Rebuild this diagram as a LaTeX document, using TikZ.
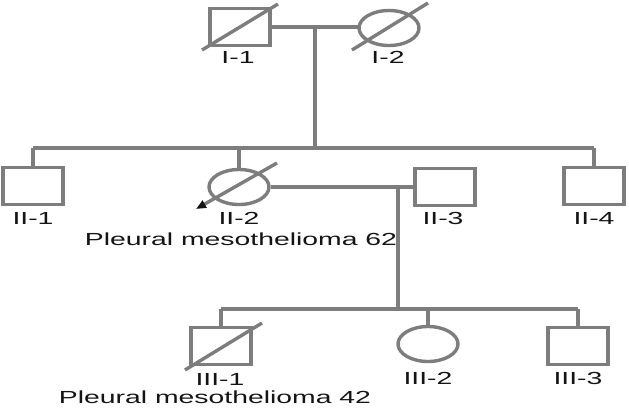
\documentclass[tikz,border=0pt]{standalone}
\usepackage{graphicx}
\usepackage{fontspec}
\setmainfont{Liberation Sans}
\usetikzlibrary{shapes.geometric,arrows.meta}
\newcommand\hstretch[1]{\scalebox{1.62}[1]{#1}}
\definecolor{pedgray}{RGB}{125,125,125}
\definecolor{txt}{RGB}{20,20,20}
\begin{document}
\begin{tikzpicture}[x=1pt,y=-1pt,
  pedline/.style={draw=pedgray,line width=3.4pt},
  malebox/.style={pedline,rectangle,minimum width=60pt,minimum height=37pt,inner sep=0pt,fill=white},
  femcirc/.style={pedline,ellipse,minimum width=60pt,minimum height=35pt,inner sep=0pt,fill=white},
  lbl/.style={anchor=base,inner sep=0pt,text=txt,font=\fontsize{17.5}{20}\selectfont},
  slash/.style={draw=pedgray,line width=3.4pt}]
\useasboundingbox (0,0) rectangle (629,408);
% coordinates of lines
\coordinate (m1) at (315,27);
\coordinate (s1) at (315,148);
\coordinate (sbL) at (33,148);
\coordinate (sbR) at (594,148);
\coordinate (m2) at (398,187);
\coordinate (s2) at (398,309);
\coordinate (sbIIIL) at (221,309);
\coordinate (sbIIIR) at (578,309);
% generation I
\draw[pedline] (270,27) -- (359,27);
\draw[pedline] (m1) -- (s1);
\node[malebox] (I1) at (240,27) {};
\node[femcirc] (I2) at (389,28) {};
\coordinate (dI1a) at (202,50); \coordinate (dI1b) at (278,4);
\draw[slash] (dI1a) -- (dI1b);
\coordinate (dI2a) at (352,50); \coordinate (dI2b) at (428,3);
\draw[slash] (dI2a) -- (dI2b);
\node[lbl] (tI1) at (238,63) {\hstretch{I-1}};
\node[lbl] (tI2) at (388,63) {\hstretch{I-2}};
% generation II
\draw[pedline] (sbL) -- (sbR);
\draw[pedline] (m2) -- (s2);
\node[malebox] (II1) at (33,186) {};
\node[femcirc] (II2) at (239,187) {};
\node[malebox] (II3) at (445,187) {};
\node[malebox] (II4) at (594,186) {};
\draw[pedline] (II1.north) -- (sbL);
\draw[pedline] (II4.north) -- (sbR);
\draw[pedline] (II2.north) -- (II2.north |- s1);
\draw[pedline] (II2.east) -- (II3.west);
\coordinate (dII2a) at (277,163); \coordinate (dII2b) at (196,209);
\draw[slash,-{Triangle[length=10pt,width=8pt,color=txt]}] (dII2a) -- (dII2b);
\node[lbl] (tII1) at (33,224) {\hstretch{II-1}};
\node[lbl] (tII2) at (239,224) {\hstretch{II-2}};
\node[lbl] (tII3) at (443,224) {\hstretch{II-3}};
\node[lbl] (tII4) at (594,224) {\hstretch{II-4}};
\node[lbl] (dxII2) at (241,245) {\hstretch{Pleural mesothelioma 62}};
% generation III
\draw[pedline] (sbIIIL) -- (sbIIIR);
\node[malebox] (III1) at (221,346) {};
\node[femcirc] (III2) at (428,344) {};
\node[malebox] (III3) at (578,346) {};
\draw[pedline] (III1.north) -- (sbIIIL);
\draw[pedline] (III2.north) -- (III2.north |- s2);
\draw[pedline] (III3.north) -- (sbIIIR);
\coordinate (dIII1a) at (185,370); \coordinate (dIII1b) at (262,323);
\draw[slash] (dIII1a) -- (dIII1b);
\node[lbl] (tIII1) at (220,385) {\hstretch{III-1}};
\node[lbl] (tIII2) at (428,384) {\hstretch{III-2}};
\node[lbl] (tIII3) at (578,384) {\hstretch{III-3}};
\node[lbl] (dxIII1) at (215,403) {\hstretch{Pleural mesothelioma 42}};
\end{tikzpicture}
\end{document}
